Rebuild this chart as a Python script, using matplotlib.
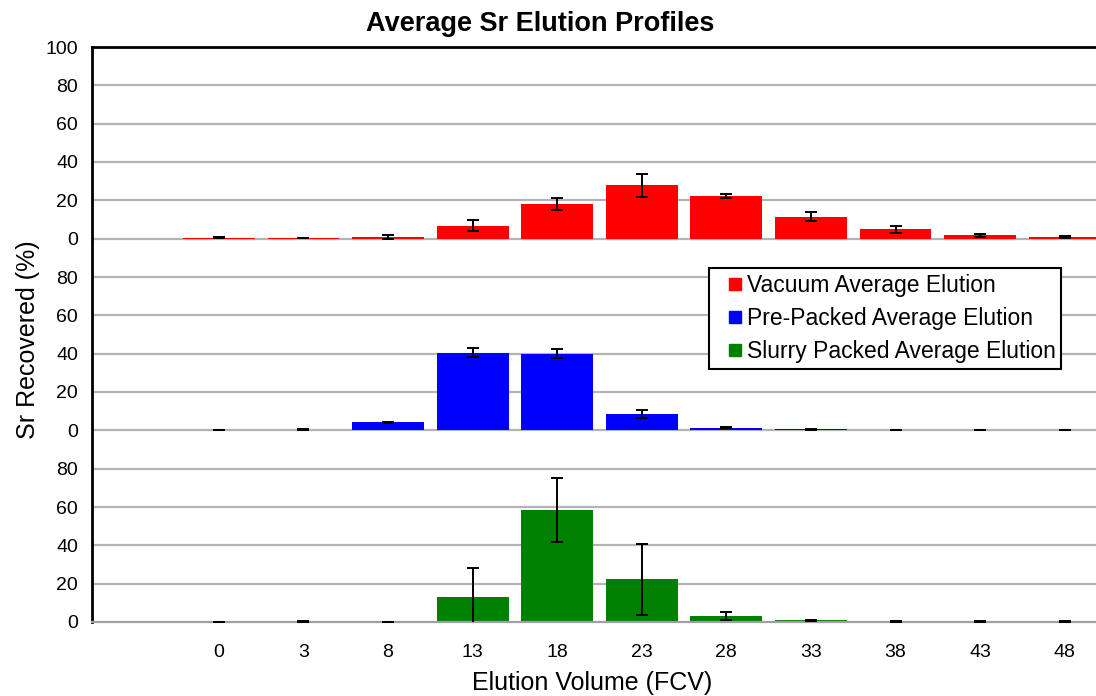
import matplotlib
matplotlib.use('Agg')
import matplotlib.pyplot as plt
from matplotlib.lines import Line2D
import numpy as np

plt.rcParams['font.family'] = ['Liberation Sans', 'DejaVu Sans']

categories = ['', '0', '3', '8', '13', '18', '23', '28', '33', '38', '43', '48']

vacuum = [np.nan, 0.5, 0.4, 1.0, 6.8, 18.2, 28.0, 22.2, 11.5, 4.8, 1.7, 0.9]
vacuum_err = [np.nan, 0.2, 0.2, 1.1, 3.0, 3.0, 6.0, 1.2, 2.3, 1.6, 0.8, 0.3]

prepacked = [np.nan, 0.05, 0.4, 4.1, 40.6, 39.9, 8.5, 1.3, 0.6, 0.3, 0.3, 0.3]
prepacked_err = [np.nan, 0.1, 0.1, 0.4, 2.4, 2.4, 2.2, 0.3, 0.2, 0.1, 0.1, 0.1]

slurry = [np.nan, 0.05, 0.3, 0.05, 13.1, 58.3, 22.4, 3.2, 1.0, 0.3, 0.3, 0.3]
slurry_err = [np.nan, 0.1, 0.1, 0.1, 15.0, 16.7, 18.5, 2.2, 0.3, 0.1, 0.1, 0.1]

panel_ticks = ['0', '20', '40', '60', '80']

fig = plt.figure(figsize=(10.96, 6.96), dpi=100)
ax = fig.add_axes([92 / 1096, 74 / 696, 1015 / 1096, 575 / 696])

x = np.arange(len(categories))
series = [
    (slurry, slurry_err, 0, '#008000', 'Slurry Packed Average Elution'),
    (prepacked, prepacked_err, 100, '#0000ff', 'Pre-Packed Average Elution'),
    (vacuum, vacuum_err, 200, '#ff0000', 'Vacuum Average Elution'),
]

colors = {}
for vals, errs, base, color, label in series:
    vals = np.array(vals, dtype=float)
    errs = np.array(errs, dtype=float)
    ax.bar(x, vals, width=0.85, bottom=base, color=color, zorder=2)
    ax.errorbar(x, vals + base, yerr=errs, fmt='none', ecolor='black',
                elinewidth=1.4, capsize=4.5, capthick=1.4, zorder=3)
    colors[label] = color

# gridlines
for y in range(20, 300, 20):
    ax.axhline(y, color='#b4b4b4', lw=1.6, zorder=1)

ax.set_xlim(-0.5, len(categories) - 0.5)
ax.set_ylim(0, 300)
ax.set_yticks(np.arange(0, 301, 20))
ax.set_yticklabels(panel_ticks * 3 + ['100'])
ax.set_xticks(x)
ax.set_xticklabels(categories)
ax.tick_params(axis='both', length=0, labelsize=14, pad=10)
ax.tick_params(axis='x', pad=16)

for side in ['left', 'top']:
    ax.spines[side].set_color('black')
    ax.spines[side].set_linewidth(2)
ax.spines['bottom'].set_color('#a0a0a0')
ax.spines['bottom'].set_linewidth(1.6)
ax.spines['right'].set_visible(False)

ax.set_ylabel('Sr Recovered (%)', fontsize=18, va='center')
ax.yaxis.set_label_coords(-(92 - 28) / 1015, (622 - 340) / 575)
ax.set_xlabel('Elution Volume (FCV)', fontsize=18, va='center')
ax.xaxis.set_label_coords((592 - 92) / 1015, -(683 - 622) / 575)

fig.text(540 / 1096, 1 - 24 / 696, 'Average Sr Elution Profiles',
         ha='center', va='center', fontsize=19.5, fontweight='bold')

order = ['Vacuum Average Elution', 'Pre-Packed Average Elution',
         'Slurry Packed Average Elution']
handles = [Line2D([], [], ls='none', marker='s', markersize=9,
                  markerfacecolor=colors[k], markeredgecolor=colors[k])
           for k in order]
leg = ax.legend(handles, order, loc='upper left',
                bbox_to_anchor=(709 / 1096, 1 - 268 / 696),
                bbox_transform=fig.transFigure, borderaxespad=0,
                fontsize=16.5, fancybox=False, framealpha=1,
                edgecolor='black', handlelength=1.75,
                handletextpad=-0.35, labelspacing=0.45, borderpad=0.25)
leg.get_frame().set_linewidth(1.5)

fig.savefig('out.png', dpi=100)
